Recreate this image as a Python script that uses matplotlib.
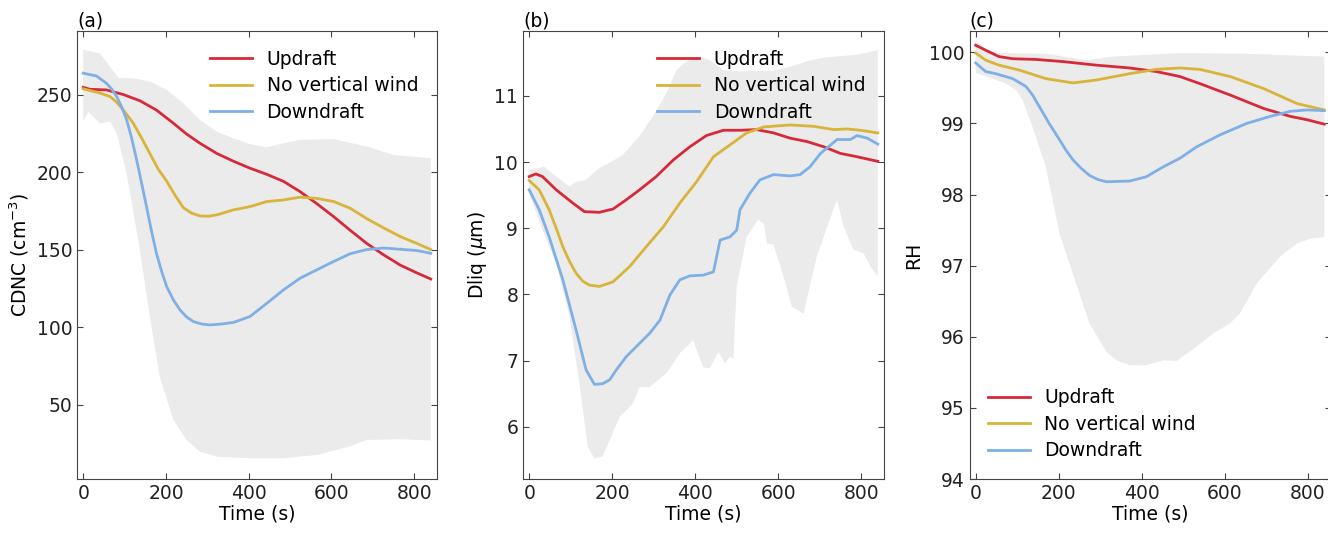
import numpy as np
import matplotlib
matplotlib.use("Agg")
import matplotlib.pyplot as plt

# ---- data ----
# (a) CDNC
a_up_t = [0, 16, 56, 97, 137, 177, 218, 250, 282, 323, 363, 403, 444, 484, 524, 565, 605, 645, 685, 726, 766, 806, 840]
a_up_v = [254.7, 253.4, 253, 250, 246, 240, 231.5, 224.5, 218.6, 212, 207, 202.5, 198.5, 194, 187.4, 179.5, 171.3, 162.5, 154, 146.6, 140, 135, 131]
a_no_t = [0, 40, 65, 81, 97, 121, 141, 161, 181, 202, 222, 242, 262, 282, 303, 323, 363, 403, 444, 484, 524, 565, 605, 645, 685, 726, 766, 806, 840]
a_no_v = [253.7, 251, 248.7, 245, 240, 231.5, 222, 212, 202, 194, 185, 177, 173.5, 171.7, 171.5, 172.4, 175.6, 177.7, 181, 182, 183.8, 183, 181, 176.7, 170, 164, 158.4, 154, 150]
a_dn_t = [0, 32, 56, 69, 81, 93, 105, 117, 129, 141, 153, 165, 177, 190, 202, 218, 234, 250, 266, 286, 306, 335, 363, 403, 444, 484, 524, 565, 605, 645, 685, 726, 766, 806, 840]
a_dn_v = [263.8, 262, 257.3, 253.5, 248.7, 242, 233.7, 222, 208, 193, 177.7, 162, 147.6, 135.5, 126, 117.5, 111, 106.5, 103.6, 102, 101.4, 102, 103, 106.8, 115.4, 124, 131.5, 137, 142.3, 147.3, 150, 151, 150.2, 149.4, 147.6]
a_hi_t = [0, 40, 65, 85, 121, 161, 202, 242, 282, 323, 363, 403, 444, 484, 524, 605, 685, 750, 840]
a_hi_v = [278.8, 276.7, 268, 260.6, 260.5, 258.4, 253, 244.4, 233.7, 226, 221.8, 218, 216, 218.6, 220.8, 221.2, 216.5, 211, 209]
a_lo_t = [0, 12, 40, 65, 81, 105, 137, 161, 185, 218, 250, 282, 323, 403, 484, 565, 645, 685, 766, 840]
a_lo_v = [232.6, 239, 231.5, 232.6, 225, 199.2, 149.8, 106.8, 68, 40, 27.2, 19.7, 16.4, 15.4, 15.4, 17.5, 23, 27.2, 27.7, 26.8]

# (b) Dliq
b_up_t = [0, 16, 32, 65, 105, 133, 169, 202, 234, 266, 306, 347, 387, 427, 468, 508, 548, 589, 629, 669, 710, 750, 790, 840]
b_up_v = [9.78, 9.82, 9.78, 9.58, 9.38, 9.25, 9.24, 9.29, 9.43, 9.58, 9.78, 10.03, 10.23, 10.4, 10.48, 10.48, 10.49, 10.44, 10.36, 10.31, 10.23, 10.13, 10.08, 10.01]
b_no_t = [0, 24, 48, 65, 81, 97, 113, 129, 145, 169, 202, 242, 282, 323, 363, 403, 444, 484, 524, 565, 629, 685, 734, 766, 798, 840]
b_no_v = [9.72, 9.58, 9.28, 9.0, 8.72, 8.5, 8.32, 8.2, 8.14, 8.12, 8.19, 8.42, 8.72, 9.02, 9.38, 9.7, 10.08, 10.26, 10.44, 10.53, 10.56, 10.54, 10.49, 10.5, 10.48, 10.44]
b_dn_t = [0, 24, 48, 81, 113, 137, 157, 177, 194, 210, 234, 258, 290, 315, 339, 363, 387, 419, 444, 460, 484, 500, 508, 532, 556, 589, 629, 653, 677, 702, 742, 774, 790, 815, 840]
b_dn_v = [9.58, 9.28, 8.87, 8.22, 7.46, 6.86, 6.64, 6.65, 6.71, 6.86, 7.06, 7.21, 7.41, 7.61, 7.99, 8.22, 8.28, 8.29, 8.34, 8.82, 8.87, 8.97, 9.28, 9.53, 9.73, 9.81, 9.79, 9.81, 9.93, 10.13, 10.34, 10.34, 10.4, 10.36, 10.27]
b_hi_t = [0, 24, 36, 65, 97, 113, 137, 169, 194, 226, 266, 298, 331, 355, 379, 411, 435, 468, 508, 589, 629, 669, 710, 790, 840]
b_hi_v = [9.88, 9.91, 9.93, 9.78, 9.63, 9.7, 9.73, 9.91, 9.99, 10.11, 10.39, 10.69, 11.04, 11.39, 11.52, 11.59, 11.54, 11.39, 11.37, 11.38, 11.44, 11.52, 11.58, 11.62, 11.69]
b_lo_t = [0, 32, 65, 97, 121, 141, 157, 177, 194, 218, 250, 266, 290, 331, 363, 395, 419, 435, 456, 472, 484, 492, 500, 524, 552, 565, 573, 589, 613, 633, 661, 693, 718, 742, 758, 782, 806, 823, 840]
b_lo_v = [9.53, 8.97, 8.47, 7.66, 6.66, 5.7, 5.52, 5.55, 5.8, 6.15, 6.35, 6.6, 6.6, 6.81, 7.11, 7.31, 6.9, 6.88, 7.13, 6.96, 7.06, 7.03, 8.12, 8.87, 9.13, 9.07, 8.77, 8.75, 8.27, 7.81, 7.71, 8.57, 9.02, 9.43, 9.02, 8.67, 8.62, 8.42, 8.27]

# (c) RH
c_up_t = [0, 24, 56, 89, 145, 210, 290, 371, 435, 492, 540, 613, 694, 758, 800, 840]
c_up_v = [100.1, 100.03, 99.94, 99.91, 99.9, 99.87, 99.82, 99.78, 99.73, 99.66, 99.56, 99.4, 99.21, 99.1, 99.05, 98.99]
c_no_t = [0, 24, 56, 105, 169, 234, 290, 371, 435, 492, 540, 613, 694, 774, 840]
c_no_v = [99.99, 99.89, 99.82, 99.75, 99.63, 99.57, 99.61, 99.7, 99.76, 99.78, 99.76, 99.66, 99.49, 99.28, 99.19]
c_dn_t = [0, 24, 48, 89, 121, 137, 153, 177, 202, 218, 234, 254, 274, 295, 315, 371, 411, 452, 492, 532, 589, 653, 710, 758, 798, 840]
c_dn_v = [99.85, 99.73, 99.7, 99.63, 99.52, 99.4, 99.24, 99.0, 98.77, 98.62, 98.49, 98.37, 98.27, 98.21, 98.18, 98.19, 98.25, 98.39, 98.51, 98.67, 98.84, 99.0, 99.1, 99.17, 99.19, 99.18]
c_hi_t = [0, 24, 56, 169, 266, 331, 492, 653, 840]
c_hi_v = [100.17, 100.03, 99.99, 99.98, 99.89, 99.94, 99.99, 99.98, 99.94]
c_lo_t = [0, 40, 73, 97, 113, 137, 169, 202, 234, 274, 315, 339, 371, 411, 452, 484, 532, 573, 613, 637, 677, 734, 774, 806, 840]
c_lo_v = [99.71, 99.63, 99.56, 99.47, 99.33, 98.95, 98.39, 97.45, 96.89, 96.19, 95.79, 95.67, 95.6, 95.6, 95.67, 95.66, 95.86, 96.05, 96.19, 96.33, 96.75, 97.13, 97.31, 97.38, 97.4]

labels = ["Updraft", "No vertical wind", "Downdraft"]
colors = ["#d62a3a", "#d8b43a", "#7fb0e5"]

plt.rcParams["font.family"] = "DejaVu Sans"
plt.rcParams["font.size"] = 13.5


def draw_panel(ax, series, band, ylabel, tag, legend_loc):
    # spread envelope as one polygon: upper edge then lower edge reversed
    hi_t, hi_v, lo_t, lo_v = band
    ax.fill(list(hi_t) + list(lo_t)[::-1], list(hi_v) + list(lo_v)[::-1],
            color="#ebebeb", lw=0)
    for (t, v), lab, col in zip(series, labels, colors):
        ax.plot(t, v, color=col, lw=2, label=lab)
    ax.set_xlim(-15, 855)
    ax.set_xticks([0, 200, 400, 600, 800])
    ax.set_xlabel("Time (s)", labelpad=1)
    ax.set_ylabel(ylabel)
    ax.set_title(tag, loc="left", fontsize=13.5, pad=3)
    ax.tick_params(direction="in", top=True, right=True, length=4,
                   color="#444444", labelcolor="#222222")
    for sp in ax.spines.values():
        sp.set_color("#444444")
    ax.legend(loc=legend_loc, frameon=False, handlelength=2.2,
              labelspacing=0.4, borderaxespad=0.6)


fig = plt.figure(figsize=(13.28, 5.53), dpi=100)
ax1 = fig.add_axes([77 / 1328, 74 / 553, 360 / 1328, 448 / 553])
ax2 = fig.add_axes([523 / 1328, 74 / 553, 361 / 1328, 448 / 553])
ax3 = fig.add_axes([969.5 / 1328, 74 / 553, 361 / 1328, 448 / 553])

draw_panel(ax1, [(a_up_t, a_up_v), (a_no_t, a_no_v), (a_dn_t, a_dn_v)],
           (a_hi_t, a_hi_v, a_lo_t, a_lo_v), r"CDNC (cm$^{-3}$)", "(a)", "upper right")
ax1.set_ylim(2, 291)
ax1.set_yticks([50, 100, 150, 200, 250])

draw_panel(ax2, [(b_up_t, b_up_v), (b_no_t, b_no_v), (b_dn_t, b_dn_v)],
           (b_hi_t, b_hi_v, b_lo_t, b_lo_v), r"Dliq ($\mu$m)", "(b)", "upper right")
ax2.set_ylim(5.21, 11.98)
ax2.set_yticks([6, 7, 8, 9, 10, 11])

draw_panel(ax3, [(c_up_t, c_up_v), (c_no_t, c_no_v), (c_dn_t, c_dn_v)],
           (c_hi_t, c_hi_v, c_lo_t, c_lo_v), "RH", "(c)", "lower left")
ax3.set_ylim(94, 100.3)
ax3.set_yticks([94, 95, 96, 97, 98, 99, 100])

fig.savefig("out.png", dpi=100)
